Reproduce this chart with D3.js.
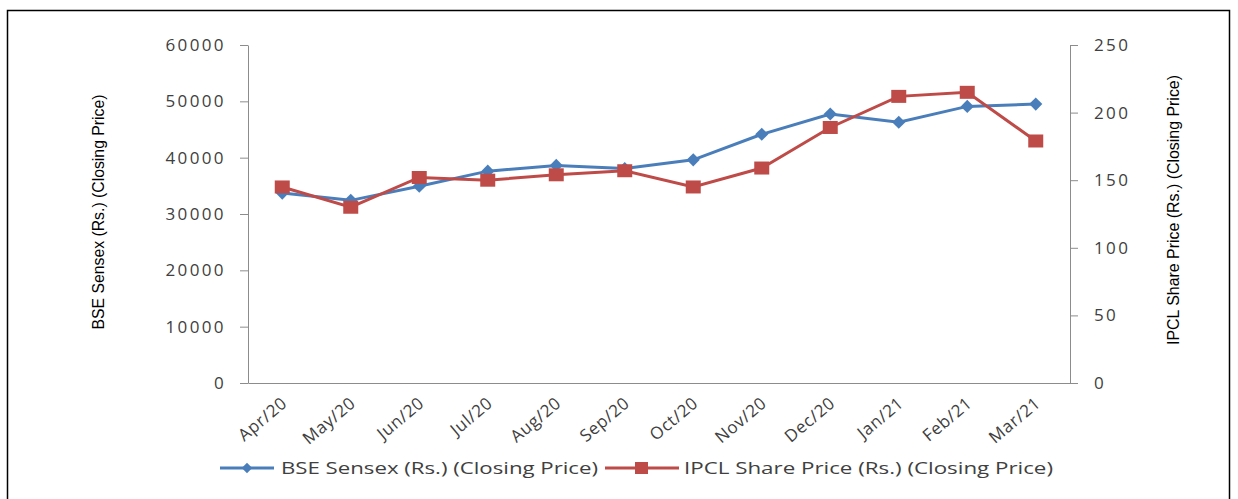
<!DOCTYPE html>
<html>
<head>
  <script src="https://d3js.org/d3.v7.min.js"></script>
  <style>
    body { margin: 0; background: #fff; }
    .tick text { font-family: "Open Sans", sans-serif; font-size: 17px; fill: #404040; letter-spacing: 2.4px; }
    .axis path, .axis line { stroke: #8c8c8c; }
    .title { font-family: "Liberation Sans", sans-serif; font-size: 17px; fill: #000; }
    .legend text { font-family: "Open Sans", sans-serif; font-size: 16px; fill: #404040; }
  </style>
</head>
<body>
  <script>
    // chart data
    var months = ["Apr/20", "May/20", "Jun/20", "Jul/20", "Aug/20", "Sep/20",
      "Oct/20", "Nov/20", "Dec/20", "Jan/21", "Feb/21", "Mar/21"];
    var sensex = [33717, 32424, 34916, 37607, 38628, 38068, 39614, 44150, 47751, 46286, 49100, 49509];
    var ipcl = [145, 130, 152, 150, 154, 157, 145, 159, 189, 212, 215, 179];
    var leftTicks = [0, 10000, 20000, 30000, 40000, 50000, 60000];
    var rightTicks = [0, 50, 100, 150, 200, 250];

    var W = 1238, H = 499;
    var margin = { top: 45, right: 168, bottom: 117, left: 248 },
      width = W - margin.left - margin.right,
      height = 383 - margin.top;

    var svg = d3.select("body").append("svg")
      .attr("width", W)
      .attr("height", H);

    // outer frame
    svg.append("rect")
      .attr("x", 7.5).attr("y", 10.5)
      .attr("width", 1222).attr("height", 500)
      .attr("fill", "none").attr("stroke", "#000").attr("stroke-width", 1.5);

    var g = svg.append("g")
      .attr("transform", "translate(" + margin.left + "," + margin.top + ")");

    var x = d3.scaleBand().domain(months).range([0, width]);
    var yL = d3.scaleLinear().domain([0, 60000]).range([height, 0]);
    var yR = d3.scaleLinear().domain([0, 250]).range([height, 0]);

    // axes
    g.append("g").attr("class", "axis")
      .call(d3.axisLeft(yL).tickValues(leftTicks).tickFormat(d3.format("d"))
        .tickSize(8).tickSizeOuter(0).tickPadding(14));
    g.append("g").attr("class", "axis")
      .attr("transform", "translate(" + width + ",0)")
      .call(d3.axisRight(yR).tickValues(rightTicks).tickSize(8).tickSizeOuter(0).tickPadding(16));
    var axB = g.append("g").attr("class", "axis")
      .attr("transform", "translate(0," + height + ")")
      .call(d3.axisBottom(x).tickSize(0).tickSizeOuter(0).tickPadding(0));
    axB.selectAll(".tick text")
      .style("letter-spacing", "0.6px")
      .attr("text-anchor", "end")
      .attr("dy", 0)
      .attr("transform", "translate(6,22) rotate(-40)");

    // axis titles
    svg.append("text").attr("class", "title")
      .attr("transform", "translate(104,212) rotate(-90)")
      .attr("text-anchor", "middle")
      .attr("textLength", 235).attr("lengthAdjust", "spacingAndGlyphs")
      .text("BSE Sensex (Rs.) (Closing Price)");
    svg.append("text").attr("class", "title")
      .attr("transform", "translate(1179,210) rotate(-90)")
      .attr("text-anchor", "middle")
      .attr("textLength", 270).attr("lengthAdjust", "spacingAndGlyphs")
      .text("IPCL Share Price (Rs.) (Closing Price)");

    var cx = function (d, i) { return x(months[i]) + x.bandwidth() / 2; };

    // series lines
    g.append("path").datum(sensex)
      .attr("fill", "none").attr("stroke", "#4a7ebb").attr("stroke-width", 3)
      .attr("d", d3.line().x(cx).y(function (d) { return yL(d); }));
    g.append("path").datum(ipcl)
      .attr("fill", "none").attr("stroke", "#be4b48").attr("stroke-width", 3)
      .attr("d", d3.line().x(cx).y(function (d) { return yR(d); }));

    // markers
    g.selectAll(".dia").data(sensex).enter().append("path")
      .attr("d", d3.symbol().type(d3.symbolDiamond2).size(110))
      .attr("fill", "#4a7ebb")
      .attr("transform", function (d, i) { return "translate(" + cx(d, i) + "," + yL(d) + ")"; });
    g.selectAll(".sq").data(ipcl).enter().append("rect")
      .attr("fill", "#be4b48")
      .attr("width", 15).attr("height", 13)
      .attr("x", function (d, i) { return cx(d, i) - 7.5; })
      .attr("y", function (d) { return yR(d) - 6.5; });

    // legend
    var leg = svg.append("g").attr("class", "legend").attr("transform", "translate(0,468)");
    leg.append("line").attr("x1", 220).attr("x2", 274).attr("stroke", "#4a7ebb").attr("stroke-width", 3);
    leg.append("path").attr("d", d3.symbol().type(d3.symbolDiamond2).size(70)).attr("fill", "#4a7ebb")
      .attr("transform", "translate(247,0)");
    leg.append("text").attr("x", 281).attr("y", 6)
      .attr("textLength", 317).attr("lengthAdjust", "spacingAndGlyphs")
      .text("BSE Sensex (Rs.) (Closing Price)");
    leg.append("line").attr("x1", 605).attr("x2", 679).attr("stroke", "#be4b48").attr("stroke-width", 3);
    leg.append("rect").attr("x", 635).attr("y", -6).attr("width", 13).attr("height", 12).attr("fill", "#be4b48");
    leg.append("text").attr("x", 684).attr("y", 6)
      .attr("textLength", 369).attr("lengthAdjust", "spacingAndGlyphs")
      .text("IPCL Share Price (Rs.) (Closing Price)");
  </script>
</body>
</html>
